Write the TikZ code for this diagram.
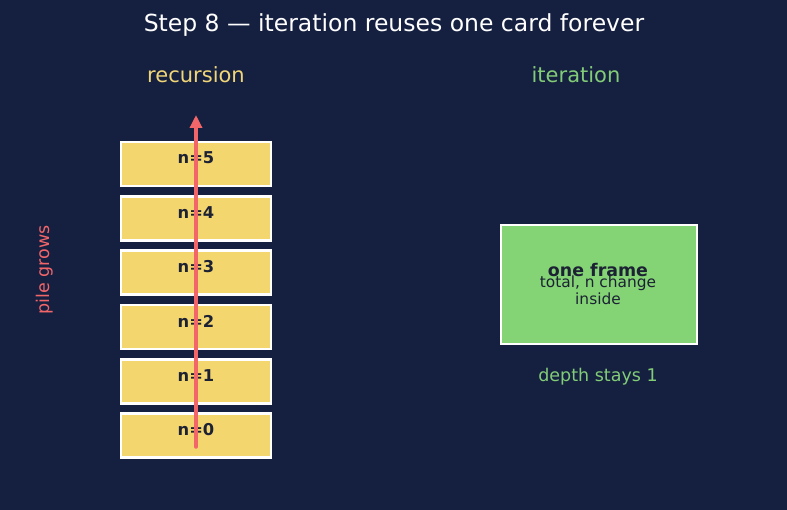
\documentclass[tikz,border=0pt]{standalone}
\usepackage{fontspec}
\setmainfont{DejaVu Sans}
\usetikzlibrary{arrows.meta}
\definecolor{bgnavy}{RGB}{21,32,64}
\definecolor{cardyellow}{RGB}{244,214,110}
\definecolor{framegreen}{RGB}{132,212,117}
\definecolor{inkdark}{RGB}{28,34,52}
\definecolor{pilered}{RGB}{242,102,106}
\definecolor{headyellow}{RGB}{240,214,120}
\definecolor{headgreen}{RGB}{130,204,120}
\tikzset{
  card/.style={draw=white, line width=2.5pt, fill=cardyellow, minimum width=150pt, minimum height=44pt, inner sep=0pt},
  cardtxt/.style={text=inkdark, font=\fontsize{16.3}{19}\selectfont\bfseries, inner sep=0pt},
  framebox/.style={draw=white, line width=2.5pt, fill=framegreen, minimum width=196pt, minimum height=119pt, inner sep=0pt},
  heading/.style={font=\fontsize{21}{24}\selectfont, inner sep=0pt}
}
\begin{document}
\begin{tikzpicture}[x=1pt,y=-1pt]
\useasboundingbox[fill=bgnavy] (0,0) rectangle (787,510);
\node[text=white, font=\fontsize{23.5}{28}\selectfont, inner sep=0pt] (title) at (394,25) {Step 8 — iteration reuses one card forever};
\node[heading, text=headyellow] (rechead) at (196,75) {recursion};
\node[heading, text=headgreen] (ithead) at (576,75) {iteration};
% the stack of cards
\foreach \n/\y in {0/435.5, 1/381.5, 2/327, 3/272.5, 4/218.5, 5/164} {
  \node[card] (f\n) at (196,\y) {};
  \node[cardtxt] (t\n) at ([yshift=6pt]f\n.center) {n=\n};
}
\coordinate (pilebot) at (196,447);
\coordinate (piletop) at (196,115);
\draw[pilered, line width=3.5pt, line cap=round, -{Triangle[length=13pt,width=12pt]}] (pilebot) -- (piletop);
\node[text=pilered, rotate=90, font=\fontsize{17.5}{20}\selectfont, inner sep=0pt] (grows) at (45,270) {pile grows};
% the one frame
\node[framebox] (frame) at (599,284.5) {};
\node[text=inkdark, font=\fontsize{17.4}{20}\selectfont\bfseries, inner sep=0pt] (fname) at (598,270) {one frame};
\node[text=inkdark, font=\fontsize{15.4}{17}\selectfont, align=center, inner sep=0pt] (fnote) at (598,290) {total, n change\\inside};
\node[text=headgreen, font=\fontsize{17.5}{20}\selectfont, inner sep=0pt] (depth) at (598,377) {depth stays 1};
\end{tikzpicture}
\end{document}
